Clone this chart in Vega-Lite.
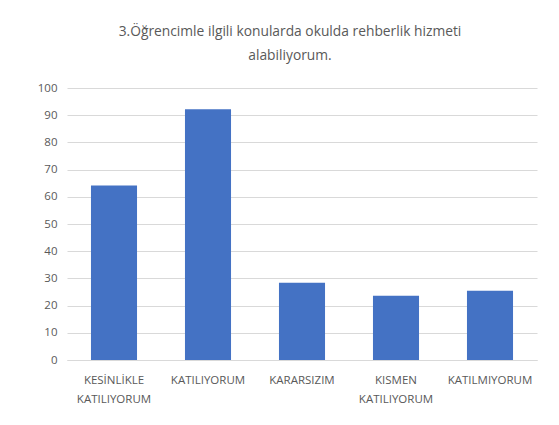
{
  "$schema": "https://vega.github.io/schema/vega-lite/v6.json",
  "width": 470,
  "height": 272,
  "autosize": {"type": "none"},
  "padding": {"left": 67, "top": 88, "right": 22, "bottom": 65},
  "background": "white",
  "title": {
    "text": ["3.Öğrencimle ilgili konularda okulda rehberlik hizmeti", "alabiliyorum."],
    "font": "Open Sans",
    "fontSize": 13.8,
    "fontWeight": "normal",
    "color": "#595959",
    "anchor": "middle",
    "dx": -12,
    "offset": 19,
    "lineHeight": 24
  },
  "data": {
    "values": [
      {"kategori": "KESİNLİKLE KATILIYORUM", "deger": 64.2},
      {"kategori": "KATILIYORUM", "deger": 92.2},
      {"kategori": "KARARSIZIM", "deger": 28.4},
      {"kategori": "KISMEN KATILIYORUM", "deger": 23.6},
      {"kategori": "KATILMIYORUM", "deger": 25.5}
    ]
  },
  "mark": {"type": "bar", "color": "#4472C4"},
  "encoding": {
    "x": {
      "field": "kategori",
      "type": "nominal",
      "sort": null,
      "scale": {"paddingInner": 0.51, "paddingOuter": 0.255},
      "axis": {
        "title": null,
        "labelAngle": 0,
        "labelExpr": "split(datum.label, ' ')",
        "labelFont": "Open Sans",
        "labelFontSize": 11.5,
        "labelColor": "#595959",
        "labelPadding": 14,
        "labelLineHeight": 19,
        "ticks": false,
        "domainColor": "#d9d9d9"
      }
    },
    "y": {
      "field": "deger",
      "type": "quantitative",
      "scale": {"domain": [0, 100]},
      "axis": {
        "title": null,
        "values": [0, 10, 20, 30, 40, 50, 60, 70, 80, 90, 100],
        "labelFont": "Open Sans",
        "labelFontSize": 11.5,
        "labelColor": "#595959",
        "labelPadding": 10,
        "ticks": false,
        "domain": false,
        "gridColor": "#d9d9d9"
      }
    }
  },
  "config": {"view": {"stroke": null}}
}
